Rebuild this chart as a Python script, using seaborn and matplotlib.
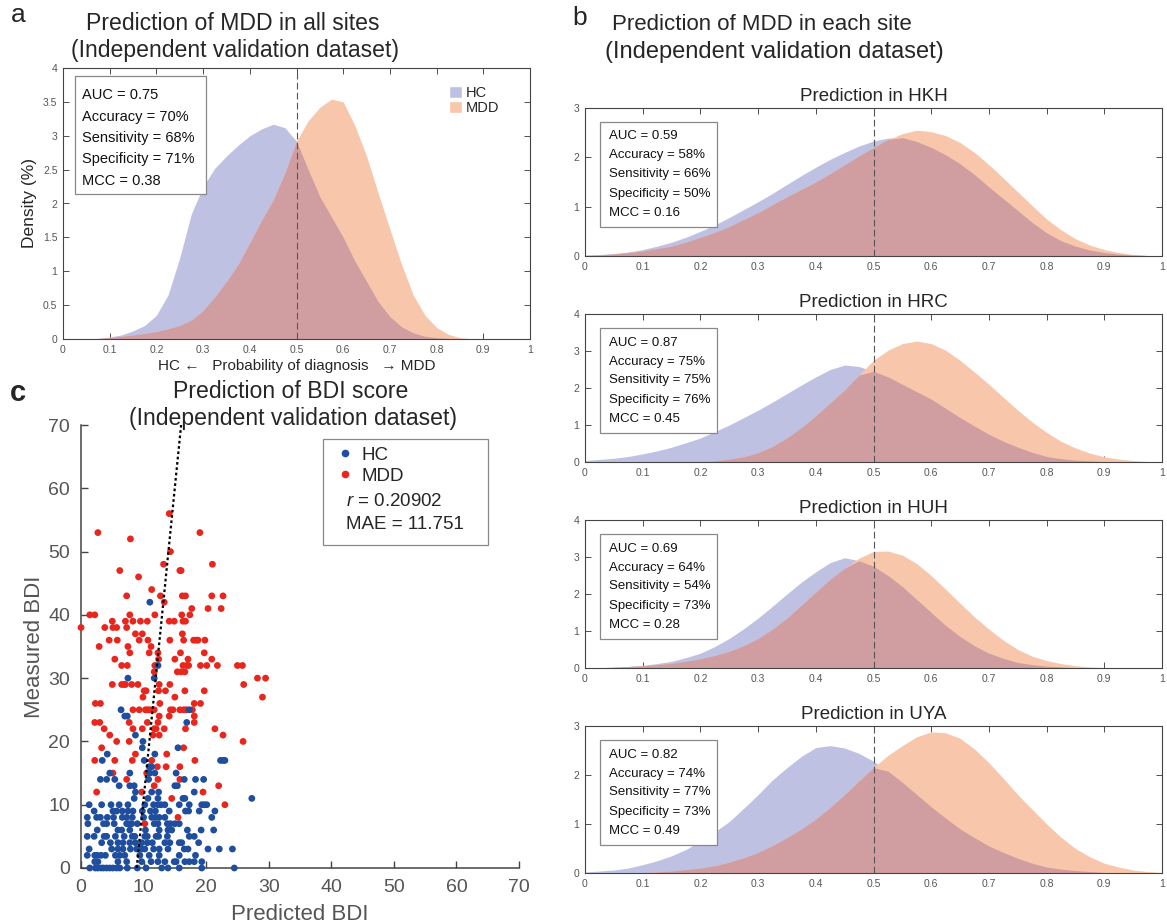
import numpy as np
import pandas as pd
import matplotlib
matplotlib.use("Agg")
import matplotlib.pyplot as plt
import seaborn as sns
from matplotlib.patches import Patch, Rectangle
from matplotlib.lines import Line2D

sns.set_style("white")
plt.rcParams['font.family'] = ['Liberation Sans', 'DejaVu Sans']
plt.rcParams['mathtext.fontset'] = 'custom'
plt.rcParams['mathtext.rm'] = 'Liberation Sans'
plt.rcParams['mathtext.it'] = 'Liberation Sans:italic'

# ---------------- data ----------------
# Panel a: density (%) of predicted probability, all sites (grid step 0.025)
prob_grid_all = [round(i * 0.025, 3) for i in range(41)]
hc_density_all = [0, 0, 0, 0.01, 0.03, 0.06, 0.12, 0.2, 0.35, 0.65, 1.2, 1.85, 2.25, 2.52,
                  2.7, 2.86, 3.0, 3.1, 3.17, 3.12, 2.92, 2.5, 2.1, 1.8, 1.5, 1.15, 0.85,
                  0.55, 0.33, 0.18, 0.09, 0.04, 0.02, 0.01, 0, 0, 0, 0, 0, 0, 0]
mdd_density_all = [0, 0, 0, 0.005, 0.02, 0.04, 0.06, 0.08, 0.11, 0.15, 0.2, 0.28, 0.42, 0.62,
                   0.85, 1.1, 1.42, 1.75, 2.05, 2.45, 2.92, 3.22, 3.42, 3.54, 3.5, 3.15, 2.7,
                   2.15, 1.62, 1.1, 0.65, 0.35, 0.17, 0.07, 0.02, 0.005, 0, 0, 0, 0, 0]
stats_all = ["AUC = 0.75", "Accuracy = 70%", "Sensitivity = 68%", "Specificity = 71%", "MCC = 0.38"]

# Panel b: per-site densities (grid step 0.025)
prob_grid_site = [round(i * 0.025, 3) for i in range(41)]
site_names = ["HKH", "HRC", "HUH", "UYA"]
site_ymax = [3, 4, 4, 3]
hc_density_hkh = [0.02, 0.03, 0.05, 0.08, 0.13, 0.2, 0.28, 0.38, 0.5, 0.63, 0.78, 0.94, 1.1, 1.27,
                  1.45, 1.63, 1.8, 1.96, 2.1, 2.23, 2.33, 2.39, 2.4, 2.32, 2.2, 2.05, 1.87, 1.65,
                  1.4, 1.16, 0.92, 0.68, 0.47, 0.31, 0.2, 0.12, 0.07, 0.04, 0.02, 0.01, 0]
mdd_density_hkh = [0.01, 0.02, 0.04, 0.07, 0.1, 0.15, 0.2, 0.28, 0.38, 0.48, 0.6, 0.74, 0.88, 1.04,
                   1.2, 1.35, 1.5, 1.67, 1.85, 2.03, 2.2, 2.36, 2.48, 2.55, 2.52, 2.44, 2.3, 2.1,
                   1.85, 1.58, 1.3, 1.02, 0.75, 0.53, 0.35, 0.22, 0.13, 0.07, 0.03, 0.01, 0]
hc_density_hrc = [0.04, 0.07, 0.1, 0.15, 0.22, 0.3, 0.4, 0.52, 0.65, 0.82, 1.0, 1.2, 1.4, 1.62,
                  1.85, 2.08, 2.3, 2.5, 2.62, 2.58, 2.45, 2.3, 2.1, 1.9, 1.7, 1.45, 1.2, 0.97,
                  0.75, 0.56, 0.4, 0.26, 0.15, 0.09, 0.05, 0.03, 0.01, 0.005, 0, 0, 0]
mdd_density_hrc = [0, 0, 0, 0, 0, 0, 0, 0.005, 0.01, 0.03, 0.08, 0.14, 0.25, 0.42,
                   0.65, 0.93, 1.25, 1.6, 1.95, 2.35, 2.75, 3.02, 3.2, 3.27, 3.2, 3.02, 2.75, 2.43,
                   2.1, 1.75, 1.4, 1.08, 0.8, 0.56, 0.38, 0.24, 0.14, 0.08, 0.04, 0.015, 0]
hc_density_huh = [0, 0.01, 0.02, 0.04, 0.07, 0.12, 0.18, 0.28, 0.4, 0.58, 0.8, 1.06, 1.35, 1.67,
                  2.0, 2.32, 2.6, 2.85, 2.98, 2.9, 2.75, 2.5, 2.2, 1.85, 1.5, 1.15, 0.85, 0.6,
                  0.4, 0.26, 0.15, 0.09, 0.05, 0.03, 0.01, 0.005, 0, 0, 0, 0, 0]
mdd_density_huh = [0, 0.01, 0.02, 0.04, 0.06, 0.09, 0.13, 0.18, 0.25, 0.34, 0.45, 0.6, 0.8, 1.05,
                   1.35, 1.7, 2.05, 2.4, 2.7, 2.97, 3.15, 3.16, 3.05, 2.82, 2.5, 2.13, 1.75, 1.38,
                   1.05, 0.75, 0.5, 0.32, 0.2, 0.12, 0.06, 0.03, 0.01, 0.005, 0, 0, 0]
hc_density_uya = [0.02, 0.04, 0.06, 0.1, 0.17, 0.25, 0.35, 0.48, 0.65, 0.84, 1.05, 1.32, 1.6, 1.9,
                  2.15, 2.38, 2.56, 2.6, 2.55, 2.44, 2.28, 2.08, 1.85, 1.6, 1.35, 1.12, 0.9, 0.72,
                  0.55, 0.42, 0.3, 0.2, 0.12, 0.08, 0.05, 0.03, 0.01, 0.005, 0, 0, 0]
mdd_density_uya = [0, 0, 0, 0.005, 0.01, 0.02, 0.04, 0.07, 0.1, 0.15, 0.22, 0.31, 0.42, 0.56,
                   0.72, 0.9, 1.1, 1.34, 1.6, 1.88, 2.15, 2.4, 2.6, 2.78, 2.88, 2.86, 2.75, 2.53,
                   2.25, 1.93, 1.6, 1.3, 1.0, 0.73, 0.5, 0.33, 0.2, 0.12, 0.06, 0.03, 0.01]
stats_hkh = ["AUC = 0.59", "Accuracy = 58%", "Sensitivity = 66%", "Specificity = 50%", "MCC = 0.16"]
stats_hrc = ["AUC = 0.87", "Accuracy = 75%", "Sensitivity = 75%", "Specificity = 76%", "MCC = 0.45"]
stats_huh = ["AUC = 0.69", "Accuracy = 64%", "Sensitivity = 54%", "Specificity = 73%", "MCC = 0.28"]
stats_uya = ["AUC = 0.82", "Accuracy = 74%", "Sensitivity = 77%", "Specificity = 73%", "MCC = 0.49"]

# Panel c: measured BDI -> list of predicted BDI values
hc_bdi_rows = {
    42: [11.0], 32: [12.3], 30: [7.5, 11.7], 25: [6.4, 17.3], 24: [7.0, 7.4], 23: [16.9],
    21: [8.7], 20: [9.9], 19: [9.8, 15.5], 18: [4.2, 11.8], 17: [3.4, 10.1, 22.3, 22.7, 23.0],
    16: [10.9, 11.3], 15: [4.6, 7.8, 11.0, 11.8, 15.2], 14: [3.1, 4.1, 5.4, 10.8, 16.5, 18.3, 19.6],
    13: [6.1, 7.8, 8.5, 15.0, 15.4], 12: [8.7, 11.3, 12.4, 18.1], 11: [8.5, 10.7, 12.3, 16.3, 16.6, 27.3],
    10: [1.3, 3.3, 4.8, 6.1, 7.5, 10.2, 11.6, 12.3, 12.8, 13.4, 15.7, 17.3, 19.3, 19.7, 20.1],
    9: [2.1, 5.1, 5.7, 6.6, 7.5, 8.3, 9.8, 11.1, 11.9, 14.1, 16.7, 17.2, 18.9, 21.4],
    8: [1.0, 2.5, 3.1, 4.2, 5.2, 6.6, 7.3, 8.2, 10.0, 11.3, 11.9, 12.5, 13.4, 20.9],
    7: [1.1, 3.6, 4.1, 5.3, 7.3, 7.7, 8.1, 9.0, 11.7, 12.3, 13.8, 14.3, 15.0, 15.7],
    6: [2.6, 5.9, 6.5, 7.8, 10.3, 12.5, 13.9, 14.5, 17.0, 19.2, 21.2],
    5: [1.0, 2.1, 3.7, 4.1, 5.5, 6.9, 8.2, 8.6, 10.2, 10.6, 12.0, 12.4, 13.8, 17.3, 18.1],
    4: [3.3, 4.7, 5.9, 6.7, 7.8, 8.7, 9.7, 10.6, 11.4, 13.4, 14.2, 15.7, 16.1, 18.8],
    3: [1.3, 4.9, 5.9, 6.7, 7.9, 8.9, 9.7, 10.2, 11.6, 12.5, 13.9, 16.5, 17.1, 20.3, 22.1, 24.2],
    2: [1.0, 2.2, 2.6, 3.2, 3.9, 5.5, 6.2, 7.0, 9.4, 10.9, 12.5, 15.7, 18.3],
    1: [2.2, 2.7, 5.9, 7.3, 9.7, 11.2, 12.3, 13.4, 14.9, 15.2, 16.6, 17.3, 18.1, 19.3],
    0: [1.4, 2.3, 2.7, 3.2, 3.6, 4.1, 4.6, 5.1, 5.7, 6.2, 7.4, 9.0, 10.4, 12.9, 13.9, 15.7, 19.3, 24.5],
}
mdd_bdi_rows = {
    56: [14.1], 53: [2.7, 19.0], 52: [7.9], 50: [14.3], 48: [13.2, 21.0], 47: [6.2, 15.8, 16.0],
    46: [9.2], 44: [11.3], 43: [7.3, 12.7, 16.2, 16.7, 20.9, 22.7], 42: [13.3], 41: [17.7, 20.3, 22.4],
    40: [1.4, 2.2, 7.8, 11.8, 16.1, 17.4], 39: [5.0, 7.1, 8.3, 9.5, 10.6, 14.1, 14.9, 16.3, 16.7],
    38: [0.0, 3.8, 5.1, 5.7, 7.3], 37: [8.7, 9.8, 16.2],
    36: [4.5, 5.8, 9.3, 10.7, 14.2, 16.4, 18.0, 18.4, 18.7, 19.8], 35: [2.9, 7.5, 11.2],
    34: [7.8, 10.9, 12.3, 15.9, 19.7], 33: [5.4, 12.4, 15.0, 17.1, 20.9],
    32: [6.5, 7.4, 11.8, 16.3, 16.9, 17.2, 19.1, 20.1, 21.8, 25.0, 25.8], 31: [11.7, 15.4, 16.0, 16.6],
    30: [28.2, 29.5], 29: [5.0, 6.5, 6.9, 7.1, 8.1, 9.1, 12.5, 14.2, 26.0],
    28: [10.1, 10.4, 12.4, 13.5, 16.6, 19.7], 27: [9.9, 15.0, 29.0], 26: [2.3, 3.1, 12.6, 18.1, 19.1],
    25: [8.3, 9.3, 10.3, 10.6, 11.0, 11.7, 14.3, 14.7, 15.8, 16.4, 16.8, 17.8], 24: [12.5, 14.1, 18.1],
    23: [2.2, 3.0, 7.7, 10.6, 12.3, 18.1], 22: [3.7, 8.3, 9.8, 11.7, 12.0, 13.3, 16.7, 21.4],
    21: [4.6, 11.5, 12.5, 22.7], 20: [5.7, 7.7, 25.9], 19: [3.3, 16.4], 18: [8.7, 13.7],
    17: [2.2, 5.4, 8.2, 11.3, 18.2], 16: [12.2, 13.6, 15.8], 15: [5.1, 10.5], 14: [7.3, 12.3, 15.8],
    13: [11.7, 22.0], 12: [2.5, 9.7, 19.5], 11: [14.5], 10: [23.0], 8: [15.5], 7: [10.2],
}
fit_line_pred = [8.9, 16.0]
fit_line_meas = [0, 70]
r_text = "0.20902"
mae_text = "11.751"

# ---------------- style ----------------
HC_FILL = "#BFC1E2"
MDD_FILL = "#F8C6AB"
OVERLAP = "#D09DA0"
HC_DOT = "#1F4E9E"
MDD_DOT = "#E8261E"

W, H = 1167, 924
fig = plt.figure(figsize=(W / 100, H / 100), dpi=100)


def axbox(l, t, r, b):
    return [l / W, 1 - b / H, (r - l) / W, (b - t) / H]


def draw_density(ax, x, hc, mdd, ymax):
    x = np.asarray(x); hc = np.asarray(hc); mdd = np.asarray(mdd)
    ax.fill_between(x, 0, hc, color=HC_FILL, lw=0)
    ax.fill_between(x, 0, mdd, color=MDD_FILL, lw=0)
    ax.fill_between(x, 0, np.minimum(hc, mdd), color=OVERLAP, lw=0)
    ax.set_xlim(0, 1)
    ax.set_ylim(0, ymax)
    ax.axvline(0.5, color="#555555", ls=(0, (6, 3)), lw=0.8)
    xt = [round(v * 0.1, 1) for v in range(11)]
    ax.set_xticks(xt)
    ax.set_xticklabels(["0"] + [f"{v:.1f}" for v in xt[1:-1]] + ["1"])
    ax.tick_params(direction="in", top=True, right=True, bottom=True, left=True,
                   length=4, width=0.6, color="#333333", labelsize=7.5,
                   labelcolor="#555555", pad=4)
    for s in ax.spines.values():
        s.set_visible(True)
        s.set_color("#444444")
        s.set_linewidth(0.8)


def stat_box(ax, lines, x0, top, w, h, tx, ty0, dy, fs):
    ax.add_patch(Rectangle((x0, top - h), w, h, transform=ax.transAxes, fc="white",
                           ec="#888888", lw=0.9, zorder=5))
    for i, t in enumerate(lines):
        ax.text(tx, ty0 - i * dy, t, transform=ax.transAxes, fontsize=fs, va="center",
                ha="left", zorder=6, color="#111111")


# ---------------- panel a ----------------
ax_a = fig.add_axes(axbox(63, 68, 530, 339))
draw_density(ax_a, prob_grid_all, hc_density_all, mdd_density_all, 4)
ax_a.set_yticks([0, 0.5, 1, 1.5, 2, 2.5, 3, 3.5, 4])
ax_a.set_yticklabels(["0", "0.5", "1", "1.5", "2", "2.5", "3", "3.5", "4"])
ax_a.set_ylabel("Density (%)", fontsize=12.5, labelpad=4)
ax_a.set_xlabel("HC \u2190   Probability of diagnosis   \u2192 MDD", fontsize=11, labelpad=3)
stat_box(ax_a, stats_all, 0.0257, 0.97, 0.28, 0.435, 0.041, 0.9, 0.079, 10.5)
ax_a.legend(handles=[Patch(facecolor=HC_FILL, label="HC"), Patch(facecolor=MDD_FILL, label="MDD")],
            loc="upper right", bbox_to_anchor=(0.935, 0.935), frameon=False, fontsize=10.5,
            handlelength=0.9, handleheight=0.9, handletextpad=0.25, labelspacing=0.1,
            borderpad=0, borderaxespad=0)

fig.text(18 / W, 1 - 15 / H, "a", fontsize=19, ha="center", va="center")
fig.text(233 / W, 1 - 23 / H, "Prediction of MDD in all sites", fontsize=16.6, ha="center", va="center")
fig.text(235 / W, 1 - 51 / H, "(Independent validation dataset)", fontsize=16.6, ha="center", va="center")

# ---------------- panel b ----------------
tops = [108, 314, 520, 726]
bots = [256, 462, 668, 873]
site_hc = [hc_density_hkh, hc_density_hrc, hc_density_huh, hc_density_uya]
site_mdd = [mdd_density_hkh, mdd_density_hrc, mdd_density_huh, mdd_density_uya]
site_stats = [stats_hkh, stats_hrc, stats_huh, stats_uya]
for name, ymax, hc, mdd, st, t, b in zip(site_names, site_ymax, site_hc, site_mdd, site_stats, tops, bots):
    ax = fig.add_axes(axbox(585, t, 1162, b))
    draw_density(ax, prob_grid_site, hc, mdd, ymax)
    ax.set_yticks(list(range(ymax + 1)))
    ax.set_title(f"Prediction in {name}", fontsize=13.5, pad=5)
    hh = b - t
    stat_box(ax, st, 0.026, 1 - 14 / hh, 0.203, 105 / hh, 0.041, 1 - 28.5 / hh, 19 / hh, 9.5)

fig.text(580 / W, 1 - 18 / H, "b", fontsize=19, ha="center", va="center")
fig.text(612 / W, 1 - 24 / H, "Prediction of MDD in each site", fontsize=16, ha="left", va="center")
fig.text(605 / W, 1 - 52 / H, "(Independent validation dataset)", fontsize=17, ha="left", va="center")

# ---------------- panel c ----------------
rows = []
for meas, preds in mdd_bdi_rows.items():
    for p in preds:
        rows.append({"Predicted": p, "Measured": meas, "Group": "MDD"})
for meas, preds in hc_bdi_rows.items():
    for p in preds:
        rows.append({"Predicted": p, "Measured": meas, "Group": "HC"})
df = pd.DataFrame(rows)

ax_c = fig.add_axes(axbox(81, 425, 519, 868))
sns.scatterplot(data=df, x="Predicted", y="Measured", hue="Group", hue_order=["MDD", "HC"],
                palette={"HC": HC_DOT, "MDD": MDD_DOT}, s=24, linewidth=0, legend=False,
                ax=ax_c, clip_on=False, zorder=3)
ax_c.plot(fit_line_pred, fit_line_meas, color="black", ls=(0, (1.2, 1.2)), lw=1.6, zorder=4)
ax_c.set_xlim(0, 70)
ax_c.set_ylim(0, 70)
ax_c.set_xticks(range(0, 71, 10))
ax_c.set_yticks(range(0, 71, 10))
ax_c.tick_params(direction="in", bottom=True, left=True, length=5, width=1, color="#444444",
                 labelsize=14, labelcolor="#555555", pad=8)
for side in ["top", "right"]:
    ax_c.spines[side].set_visible(False)
for side in ["left", "bottom"]:
    ax_c.spines[side].set_color("#444444")
    ax_c.spines[side].set_linewidth(1.1)
ax_c.set_xlabel("Predicted BDI", fontsize=16, color="#555555", labelpad=6)
ax_c.set_ylabel("Measured BDI", fontsize=16, color="#555555", labelpad=2)

ax_c.add_patch(Rectangle((0.552, 0.729), 0.377, 0.239, transform=ax_c.transAxes, fc="white",
                         ec="#888888", lw=0.9, zorder=5))
leg = ax_c.legend(handles=[Line2D([], [], marker="o", ls="", color=HC_DOT, ms=4.5, label="HC"),
                           Line2D([], [], marker="o", ls="", color=MDD_DOT, ms=4.5, label="MDD")],
                  loc="center left", bbox_to_anchor=(0.585, 0.908), frameon=False, fontsize=13.5,
                  handlelength=0.8, handletextpad=0.5, labelspacing=0.2, borderpad=0, borderaxespad=0)
leg.set_zorder(6)
ax_c.text(0.604, 0.827, r"$\it{r}$ = " + r_text, transform=ax_c.transAxes, fontsize=13.5,
          va="center", ha="left", zorder=6)
ax_c.text(0.604, 0.775, "MAE = " + mae_text, transform=ax_c.transAxes, fontsize=13.5,
          va="center", ha="left", zorder=6)

fig.text(18 / W, 1 - 393 / H, "c", fontsize=21, fontweight="bold", ha="center", va="center")
fig.text(291 / W, 1 - 391 / H, "Prediction of BDI score", fontsize=16.6, ha="center", va="center")
fig.text(293 / W, 1 - 419 / H, "(Independent validation dataset)", fontsize=16.6, ha="center", va="center")

fig.savefig("out.png", dpi=100)
